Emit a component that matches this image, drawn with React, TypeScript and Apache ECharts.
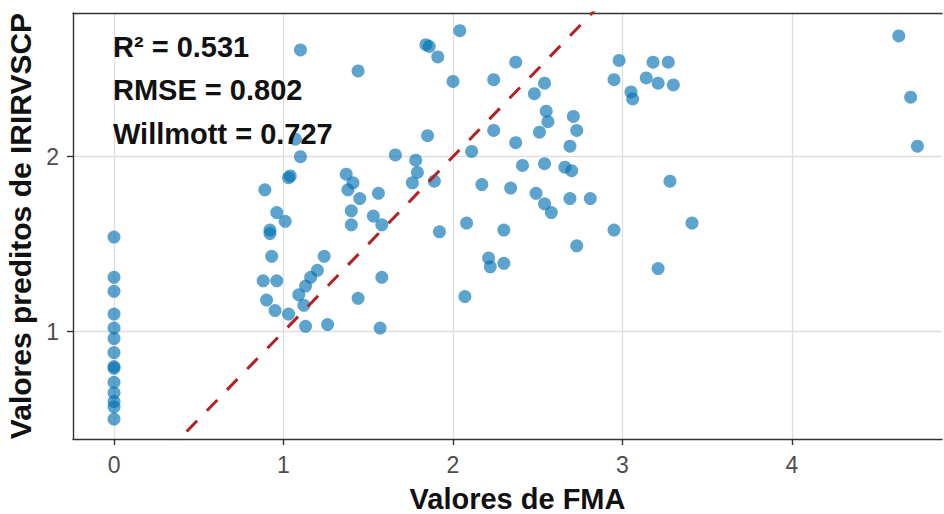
import React, { useEffect, useRef } from "react";
import * as echarts from "echarts";

// Observed FMA values and the matching predicted values
const fma = [
  0, 0, 0, 0, 0, 0, 0, 0, 0, 0, 0, 0, 0, 0,
  0.96, 1.01, 0.92, 0.92, 0.93, 0.88, 0.96, 0.9, 0.95, 1.03,
  1.24, 1.2, 1.16, 1.13, 1.09, 1.12, 1.13, 1.26, 1.4, 1.4, 1.44,
  1.1, 1.44, 1.07, 1.1, 1.04, 1.03, 0.89, 1.37, 1.41, 1.38, 1.45,
  2.04, 1.84, 1.86, 1.91, 2.0, 2.24, 2.37, 2.54, 2.48, 2.55,
  2.56, 2.71, 2.73, 2.69, 2.51, 2.37, 2.24, 2.11, 1.85, 1.66,
  1.78, 1.79, 1.76, 1.89, 1.56, 1.53, 2.08, 2.41, 2.54, 2.66,
  2.7, 2.17, 2.34, 2.49, 2.54, 2.58, 2.69, 2.81, 2.98, 2.95,
  3.05, 3.06, 1.58, 1.92, 2.3, 2.73, 2.95, 2.21, 2.22, 2.3,
  1.58, 1.57, 2.07, 3.18, 3.27, 3.14, 3.21, 3.3, 3.28, 3.41,
  3.21, 4.63, 4.7, 4.74,
];

const predicted = [
  1.54, 1.31, 1.23, 1.1, 1.02, 0.96, 0.88, 0.8, 0.79, 0.71, 0.65, 0.6, 0.57, 0.5,
  1.68, 1.63, 1.58, 1.56, 1.43, 1.29, 1.29, 1.18, 1.12, 1.1,
  1.43, 1.35, 1.31, 1.26, 1.21, 1.15, 1.03, 1.04, 1.69, 1.61, 1.19,
  2.61, 2.49, 2.1, 2.0, 1.89, 1.88, 1.81, 1.9, 1.85, 1.81, 1.76,
  2.72, 2.64, 2.63, 2.57, 2.43, 2.44, 2.54, 2.42, 2.36, 2.26,
  2.2, 2.23, 2.15, 2.06, 2.14, 2.08, 2.15, 2.03, 2.12, 2.01,
  1.98, 1.91, 1.85, 1.86, 1.79, 1.66, 1.62, 1.95, 1.96, 1.94,
  1.92, 1.84, 1.82, 1.79, 1.73, 1.68, 1.76, 1.76, 2.55, 2.44,
  2.37, 2.33, 1.61, 1.57, 1.58, 1.49, 1.58, 1.42, 1.37, 1.39,
  1.31, 1.02, 1.2, 2.54, 2.54, 2.45, 2.42, 2.41, 1.86, 1.62,
  1.36, 2.69, 2.34, 2.06,
];

const xTicks = [0, 1, 2, 3, 4];
const yTicks = [1, 2];
const xRange = [-0.242, 4.885];
const yRange = [0.386, 2.821];
const identityLine = [-1, 6];
const stats = ["R² = 0.531", "RMSE = 0.802", "Willmott = 0.727"];

const FONT = "'Liberation Sans', Arial, sans-serif";
const NARROW = "'Liberation Sans Narrow', 'Arial Narrow', 'Liberation Sans', sans-serif";

export default function App() {
  const ref = useRef<HTMLDivElement>(null);

  useEffect(() => {
    if (!ref.current) return;
    const chart = echarts.init(ref.current, null, { renderer: "svg" });
    const points = fma.map((x, i) => [x, predicted[i]]);

    const frame = { color: "#333333", width: 1.4 };
    const axisLine = { show: true, onZero: false, lineStyle: frame };
    const splitLine = { show: true, lineStyle: { color: "#dedede", width: 1.3 } };
    const tickLabel = { color: "#4d4d4d", fontSize: 23, fontFamily: NARROW };
    const axisName = { color: "#111111", fontSize: 30, fontWeight: "bold" as const, fontFamily: FONT };

    chart.setOption({
      animation: false,
      backgroundColor: "#ffffff",
      grid: {
        left: 73,
        top: 13,
        right: 2,
        height: 426,
        show: false,
        outerBoundsMode: "none",
        containLabel: false,
      },
      xAxis: [
        {
          type: "value",
          min: xRange[0],
          max: xRange[1],
          name: "Valores de FMA",
          nameLocation: "middle",
          nameGap: 46,
          nameTextStyle: { ...axisName, fontSize: 29, lineHeight: 28, padding: [0, 0, 0, 20] },
          axisLine,
          axisTick: { show: true, customValues: xTicks, length: 6, lineStyle: frame },
          axisLabel: { customValues: xTicks, margin: 14, ...tickLabel },
          splitLine,
          minorSplitLine: { show: false },
        },
        {
          // top edge of the panel frame
          type: "value",
          position: "top",
          min: xRange[0],
          max: xRange[1],
          axisLine,
          axisTick: { show: false },
          axisLabel: { show: false },
          splitLine: { show: false },
        },
      ],
      yAxis: {
        type: "value",
        min: yRange[0],
        max: yRange[1],
        name: "Valores preditos de IRIRVSCP",
        nameLocation: "middle",
        nameGap: 33,
        nameTextStyle: axisName,
        axisLine,
        axisTick: { show: true, customValues: yTicks, length: 6, lineStyle: frame },
        axisLabel: { customValues: yTicks, margin: 14, ...tickLabel },
        splitLine,
      },
      series: [
        {
          type: "scatter",
          data: points,
          symbol: "circle",
          symbolSize: 13,
          itemStyle: { color: "rgba(0,112,178,0.8)" },
          z: 3,
        },
        {
          type: "line",
          data: identityLine.map((v) => [v, v]),
          symbol: "none",
          clip: true,
          lineStyle: { color: "#b22222", width: 3, type: [15, 14] },
          z: 4,
        },
      ],
      graphic: stats.map((t, i) => ({
        type: "text",
        left: 113,
        top: 32 + i * 43.5,
        z: 10,
        style: {
          text: t,
          fill: "#111111",
          font: `bold 29px ${FONT}`,
        },
      })),
    });

    return () => chart.dispose();
  }, []);

  return (
    <div
      ref={ref}
      style={{ position: "fixed", left: 0, top: 0, width: 944, height: 514, background: "#fff" }}
    />
  );
}
